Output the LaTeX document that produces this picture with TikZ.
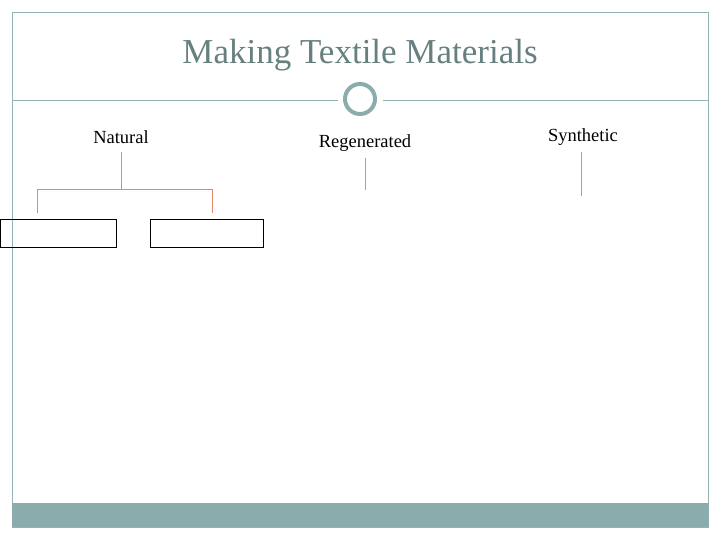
\documentclass[tikz,border=0pt]{standalone}
\usepackage{fontspec}
\setmainfont{Liberation Serif}
\begin{document}
\begin{tikzpicture}[x=1pt,y=-1pt,
  frame/.style={draw=gray!60!teal!60, line width=0.8pt},
  conn/.style={draw=brown!70!red!70, line width=0.6pt},
  lbl/.style={font=\fontsize{18.5}{20}\selectfont, inner sep=1pt},
  box/.style={draw=black, line width=0.8pt, minimum width=116pt, minimum height=28pt, inner sep=0pt}]
\useasboundingbox (0,0) rectangle (720,540);
\definecolor{bar}{RGB}{138,172,172}
\draw[frame] (12,12) rectangle (708,527);
\fill[bar] (12,503) rectangle (708,527);
\node[font=\fontsize{35}{38}\selectfont, text=gray!80!teal] (title) at (360,55) {Making Textile Materials};
\node[circle, draw=bar, line width=4pt, minimum size=30pt, inner sep=0pt] (c) at (360,99) {};
\coordinate (l0) at (12,100); \coordinate (l1) at (338,100);
\coordinate (r0) at (383,100); \coordinate (r1) at (708,100);
\draw[frame] (l0) -- (l1); \draw[frame] (r0) -- (r1);
\node[lbl] (nat) at (121,137) {Natural};
\node[lbl] (reg) at (365,143) {Regenerated};
\node[lbl] (syn) at (583,137) {Synthetic};
\node[box, minimum width=116pt] (b1) at (58,233) {};
\node[box, minimum width=113pt] (b2) at (206.5,233) {};
\coordinate (n1) at (121,152); \coordinate (n2) at (121,189);
\coordinate (h1) at (37,189); \coordinate (h2) at (212,189);
\coordinate (d1) at (37,213); \coordinate (d2) at (212,213);
\draw[conn] (n1) -- (n2);
\draw[conn] (d1) -- (h1) -- (h2) -- (d2);
\coordinate (g1) at (365,158); \coordinate (g2) at (365,190);
\draw[conn] (g1) -- (g2);
\coordinate (s1) at (581,152); \coordinate (s2) at (581,196);
\draw[conn] (s1) -- (s2);
\end{tikzpicture}
\end{document}
